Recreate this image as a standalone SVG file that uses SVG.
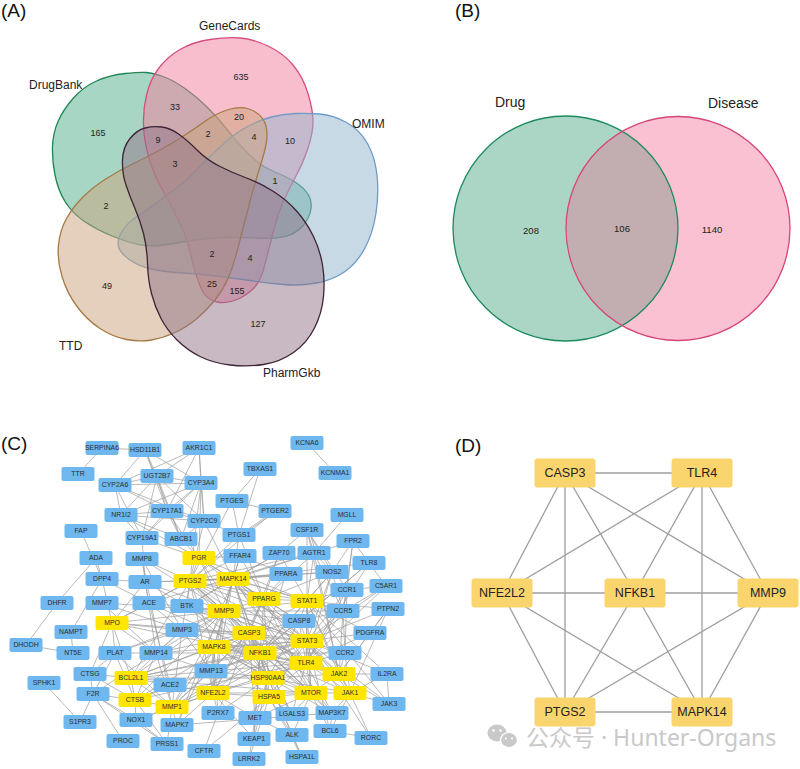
<svg xmlns="http://www.w3.org/2000/svg" xmlns:xlink="http://www.w3.org/1999/xlink" width="800" height="769" viewBox="0 0 800 769">
<style>
text{font-family:"Liberation Sans",Arial,sans-serif}
.pl{font-size:19px;fill:#111}
.sl{font-size:12px;fill:#222}
.bl{font-size:14px;fill:#222}
.num{font-size:9px;fill:#222;text-anchor:middle}
.set{stroke-width:1.3;fill-opacity:.5}
.e line{stroke:#9c9c9c;stroke-width:.7}
.nb{fill:#6EB8EF}
.ny{fill:#FFE500}
.nb text,.ny text{font-size:6.9px;fill:#2d2d2d;text-anchor:middle}
.ed line{stroke:#9e9e9e;stroke-width:1.3}
.nd{fill:#FAD46C}
.nd text{font-size:12.5px;fill:#222;text-anchor:middle}
.wm{font-family:"Noto Sans","Noto Sans CJK SC",sans-serif;font-size:23px;fill:#c4c4c4}
</style>
<defs>
<rect id="cb" x="-16.5" y="-7" width="33" height="14" rx="2"/>
<rect id="db" x="-30.5" y="-14.5" width="61" height="29" rx="3"/>
<clipPath id="clipG"><circle cx="565.5" cy="228.5" r="112.5"/></clipPath>
</defs>
<rect width="800" height="769" fill="#fff"/>

<!-- Panel labels -->
<text class="pl" x="1" y="17">(A)</text>
<text class="pl" x="455" y="17">(B)</text>
<text class="pl" x="1" y="450">(C)</text>
<text class="pl" x="455" y="452">(D)</text>

<!-- Panel A: five-set Venn -->
<g id="venn5">
<path id="set-DrugBank" class="set" fill="#51AD89" stroke="#1F8655" d="M146.5,72.5 Q140,72 125,73.5 Q110,75 96.5,81 Q83,87 73,98.5 Q63,110 58,121.5 Q53,133 52.5,146.5 Q52,160 55,175 Q58,190 65,201.5 Q72,213 84.5,221.5 Q97,230 112,236 Q127,242 138.5,244.5 Q150,247 163.5,245 Q177,243 192,240.5 Q207,238 223.5,237.5 Q240,237 258.5,238 Q277,239 287,236 Q297,233 303.5,225 Q310,217 311,208.5 Q312,200 307.5,193.5 Q303,187 295,182 Q287,177 275,172 Q263,167 255,160 Q247,153 240,145 Q233,137 225,127 Q217,117 207,107 Q197,97 185,88.5 Q173,80 163,76.5 Q153,73 146.5,72.5 Z"/>
<path id="set-GeneCards" class="set" fill="#F17D9B" stroke="#D64F83" d="M185,235 Q187,240 192,260 Q197,280 202,290 Q207,300 217,302 Q227,304 237,299.5 Q247,295 253.5,288.5 Q260,282 263.5,269.5 Q267,257 272.5,235 Q278,213 284,200 Q290,187 296.5,175 Q303,163 308,148 Q313,133 313,121.5 Q313,110 308,93.5 Q303,77 293,65 Q283,53 268,46 Q253,39 240,38 Q227,37 210,39.5 Q193,42 180,49.5 Q167,57 158.5,68.5 Q150,80 146.5,95 Q143,110 143.5,125 Q144,140 148.5,156.5 Q153,173 161.5,188 Q170,203 176.5,216.5 Q183,230 185,235 Z"/>
<path id="set-OMIM" class="set" fill="#91B3CD" stroke="#6C9BC8" d="M295,113.5 Q307,113 320,114 Q333,115 346.5,122.5 Q360,130 367.5,143.5 Q375,157 377,175 Q379,193 376,213 Q373,233 365,248 Q357,263 345,271.5 Q333,280 316.5,283 Q300,286 283.5,284.5 Q267,283 250,280.5 Q233,278 216.5,276 Q200,274 183.5,273 Q167,272 153.5,269.5 Q140,267 130,260 Q120,253 118.5,246.5 Q117,240 122,231.5 Q127,223 137,216.5 Q147,210 158.5,201.5 Q170,193 178.5,186.5 Q187,180 195,171.5 Q203,163 211.5,155 Q220,147 228.5,139.5 Q237,132 248.5,126 Q260,120 271.5,117 Q283,114 295,113.5 Z"/>
<path id="set-TTD" class="set" fill="#C9A179" stroke="#A57A44" d="M228.5,109.5 Q240,106 249,109 Q258,112 262.5,118.5 Q267,125 267,134 Q267,143 263.5,155 Q260,167 256.5,178.5 Q253,190 250,201.5 Q247,213 243.5,226.5 Q240,240 236.5,253.5 Q233,267 228,278.5 Q223,290 215,300 Q207,310 197,318.5 Q187,327 175,332.5 Q163,338 151.5,340 Q140,342 126.5,339.5 Q113,337 100,328.5 Q87,320 77,306.5 Q67,293 62,276.5 Q57,260 58.5,245 Q60,230 66.5,218.5 Q73,207 83,197 Q93,187 106.5,178.5 Q120,170 133.5,163.5 Q147,157 160,150 Q173,143 185,135 Q197,127 207,120 Q217,113 228.5,109.5 Z"/>
<path id="set-PharmGkb" class="set" fill="#917387" stroke="#3E2436" d="M145,128 Q153,126 161.5,127 Q170,128 178.5,134 Q187,140 197,150 Q207,160 220,166.5 Q233,173 246.5,178 Q260,183 273.5,191.5 Q287,200 297,211.5 Q307,223 313.5,236.5 Q320,250 322.5,265 Q325,280 323.5,296.5 Q322,313 314.5,328 Q307,343 293.5,352.5 Q280,362 263.5,364.5 Q247,367 230,365 Q213,363 200,356.5 Q187,350 177,340 Q167,330 161,318.5 Q155,307 151.5,293.5 Q148,280 147.5,263.5 Q147,247 143.5,233.5 Q140,220 135,208.5 Q130,197 126,185 Q122,173 122.5,160 Q123,147 130,138.5 Q137,130 145,128 Z"/>
<text class="sl" x="199" y="29.5">GeneCards</text>
<text class="sl" x="29" y="89">DrugBank</text>
<text class="sl" x="352" y="128">OMIM</text>
<text class="sl" x="59" y="350">TTD</text>
<text class="sl" x="263" y="377">PharmGkb</text>
<text class="num" x="241" y="80">635</text>
<text class="num" x="175" y="110">33</text>
<text class="num" x="239" y="120">20</text>
<text class="num" x="98" y="136">165</text>
<text class="num" x="158" y="143">9</text>
<text class="num" x="208" y="137">2</text>
<text class="num" x="254" y="140">4</text>
<text class="num" x="290" y="144">10</text>
<text class="num" x="175" y="167">3</text>
<text class="num" x="275" y="184">1</text>
<text class="num" x="106" y="209">2</text>
<text class="num" x="212" y="257">2</text>
<text class="num" x="250" y="261">4</text>
<text class="num" x="107" y="289">49</text>
<text class="num" x="212" y="287">25</text>
<text class="num" x="237" y="294">155</text>
<text class="num" x="258" y="327">127</text>
</g>

<!-- Panel B: two-set Venn -->
<g id="venn2">
<circle id="set-Drug" cx="565.5" cy="228.5" r="112.5" fill="#ABD6C6"/>
<circle id="set-Disease" cx="678" cy="228.5" r="112" fill="#F9C1D1"/>
<circle cx="678" cy="228.5" r="112" fill="#C2AEB1" clip-path="url(#clipG)"/>
<circle cx="565.5" cy="228.5" r="112.5" fill="none" stroke="#1D8A5E" stroke-width="1.3"/>
<circle cx="678" cy="228.5" r="112" fill="none" stroke="#D6457A" stroke-width="1.3"/>
<text class="bl" x="495" y="107">Drug</text>
<text class="bl" x="708" y="108">Disease</text>
<text class="num" style="font-size:9.5px" x="531" y="234">208</text>
<text class="num" style="font-size:9.5px" x="622" y="232">106</text>
<text class="num" style="font-size:9.5px" x="712" y="233">1140</text>
</g>

<!-- Panel C connectors -->
<g id="c-edges" class="e">
<line x1="102" y1="448" x2="145" y2="450"/><line x1="102" y1="448" x2="78" y2="474"/>
<line x1="145" y1="450" x2="115" y2="485"/><line x1="145" y1="450" x2="157" y2="476"/><line x1="145" y1="450" x2="167" y2="511"/><line x1="145" y1="450" x2="201" y2="483"/><line x1="145" y1="450" x2="181" y2="539"/>
<line x1="199" y1="448" x2="157" y2="476"/><line x1="199" y1="448" x2="201" y2="483"/><line x1="199" y1="448" x2="167" y2="511"/><line x1="199" y1="448" x2="115" y2="485"/><line x1="199" y1="448" x2="204" y2="521"/>
<line x1="157" y1="476" x2="115" y2="485"/><line x1="157" y1="476" x2="201" y2="483"/><line x1="157" y1="476" x2="167" y2="511"/><line x1="157" y1="476" x2="121" y2="515"/><line x1="157" y1="476" x2="204" y2="521"/><line x1="157" y1="476" x2="181" y2="539"/><line x1="157" y1="476" x2="142" y2="538"/>
<line x1="115" y1="485" x2="201" y2="483"/><line x1="115" y1="485" x2="121" y2="515"/><line x1="115" y1="485" x2="142" y2="538"/><line x1="115" y1="485" x2="204" y2="521"/><line x1="115" y1="485" x2="167" y2="511"/>
<line x1="201" y1="483" x2="121" y2="515"/><line x1="201" y1="483" x2="204" y2="521"/><line x1="201" y1="483" x2="181" y2="539"/><line x1="201" y1="483" x2="167" y2="511"/><line x1="201" y1="483" x2="142" y2="538"/><line x1="201" y1="483" x2="199" y2="558"/><line x1="201" y1="483" x2="190" y2="581"/>
<line x1="121" y1="515" x2="167" y2="511"/><line x1="121" y1="515" x2="181" y2="539"/><line x1="121" y1="515" x2="204" y2="521"/><line x1="121" y1="515" x2="142" y2="538"/><line x1="121" y1="515" x2="199" y2="558"/>
<line x1="167" y1="511" x2="142" y2="538"/><line x1="167" y1="511" x2="204" y2="521"/><line x1="167" y1="511" x2="181" y2="539"/><line x1="167" y1="511" x2="199" y2="558"/>
<line x1="142" y1="538" x2="199" y2="558"/><line x1="142" y1="538" x2="145" y2="582"/><line x1="181" y1="539" x2="199" y2="558"/>
<line x1="204" y1="521" x2="181" y2="539"/><line x1="204" y1="521" x2="239" y2="535"/><line x1="204" y1="521" x2="190" y2="581"/><line x1="204" y1="521" x2="233" y2="579"/>
<line x1="260" y1="469" x2="232" y2="501"/><line x1="260" y1="469" x2="239" y2="535"/><line x1="232" y1="501" x2="275" y2="511"/><line x1="232" y1="501" x2="239" y2="535"/><line x1="275" y1="511" x2="239" y2="535"/><line x1="275" y1="512.5" x2="239" y2="536.5"/>
<line x1="232" y1="501" x2="190" y2="581"/><line x1="239" y1="535" x2="190" y2="581"/><line x1="239" y1="535" x2="233" y2="579"/><line x1="239" y1="535" x2="264" y2="599"/><line x1="275" y1="511" x2="190" y2="581"/>
<line x1="307" y1="443" x2="335" y2="473"/>
<line x1="347" y1="515" x2="314" y2="553"/><line x1="307" y1="530" x2="314" y2="553"/><line x1="309" y1="530" x2="316" y2="553"/><line x1="307" y1="530" x2="279" y2="553"/><line x1="307" y1="530" x2="332" y2="572"/><line x1="307" y1="530" x2="307" y2="601"/><line x1="307" y1="530" x2="339" y2="674"/><line x1="307" y1="530" x2="347" y2="590"/>
<line x1="353" y1="541" x2="314" y2="553"/><line x1="353" y1="541" x2="347" y2="590"/><line x1="353" y1="541" x2="386" y2="586"/><line x1="353" y1="541" x2="332" y2="572"/><line x1="353" y1="541" x2="343" y2="611"/>
<line x1="81" y1="531" x2="102" y2="579"/><line x1="96" y1="558" x2="102" y2="579"/><line x1="96" y1="558" x2="57" y2="603"/><line x1="57" y1="603" x2="26" y2="645"/><line x1="26" y1="645" x2="73" y2="653"/><line x1="71" y1="632" x2="73" y2="653"/><line x1="71" y1="632" x2="102" y2="579"/>
<line x1="102" y1="579" x2="149" y2="603"/><line x1="102" y1="579" x2="112" y2="623"/><line x1="102" y1="579" x2="145" y2="582"/>
<line x1="102" y1="603" x2="182" y2="630"/><line x1="102" y1="603" x2="224" y2="611"/><line x1="102" y1="603" x2="156" y2="653"/>
<line x1="142" y1="559" x2="224" y2="611"/><line x1="142" y1="559" x2="182" y2="630"/><line x1="142" y1="559" x2="172" y2="707"/><line x1="142" y1="559" x2="190" y2="581"/><line x1="142" y1="559" x2="156" y2="653"/>
<line x1="145" y1="582" x2="190" y2="581"/><line x1="145" y1="582" x2="149" y2="603"/><line x1="145" y1="582" x2="187" y2="606"/><line x1="145" y1="582" x2="112" y2="623"/><line x1="145" y1="582" x2="307" y2="641"/><line x1="145" y1="582" x2="233" y2="579"/>
<line x1="149" y1="603" x2="112" y2="623"/><line x1="149" y1="603" x2="224" y2="611"/><line x1="149" y1="603" x2="170" y2="685"/><line x1="149" y1="603" x2="314" y2="553"/><line x1="149" y1="603" x2="190" y2="581"/><line x1="149" y1="603" x2="260" y2="653"/><line x1="149" y1="603" x2="182" y2="630"/>
<line x1="187" y1="606" x2="224" y2="611"/><line x1="187" y1="606" x2="233" y2="579"/><line x1="187" y1="606" x2="190" y2="581"/><line x1="187" y1="606" x2="260" y2="653"/><line x1="187" y1="606" x2="249" y2="633"/><line x1="187" y1="606" x2="279" y2="553"/><line x1="187" y1="606" x2="307" y2="641"/>
<line x1="112" y1="623" x2="182" y2="630"/><line x1="112" y1="623" x2="115" y2="653"/><line x1="112" y1="623" x2="156" y2="653"/><line x1="112" y1="623" x2="224" y2="611"/><line x1="112" y1="623" x2="249" y2="633"/><line x1="112" y1="623" x2="260" y2="653"/><line x1="112" y1="623" x2="190" y2="581"/><line x1="112" y1="623" x2="90" y2="674"/><line x1="112" y1="623" x2="131" y2="678"/>
<line x1="182" y1="630" x2="156" y2="653"/><line x1="182" y1="630" x2="211" y2="671"/><line x1="182" y1="630" x2="224" y2="611"/><line x1="182" y1="630" x2="172" y2="707"/><line x1="182" y1="630" x2="249" y2="633"/><line x1="182" y1="630" x2="214" y2="647"/><line x1="182" y1="630" x2="260" y2="653"/><line x1="182" y1="630" x2="115" y2="653"/><line x1="182" y1="630" x2="131" y2="678"/><line x1="182" y1="630" x2="307" y2="641"/>
<line x1="115" y1="653" x2="156" y2="653"/><line x1="115" y1="653" x2="93" y2="694"/><line x1="115" y1="653" x2="90" y2="674"/><line x1="115" y1="653" x2="135" y2="700"/><line x1="115" y1="653" x2="224" y2="611"/><line x1="115" y1="653" x2="172" y2="707"/>
<line x1="156" y1="653" x2="211" y2="671"/><line x1="156" y1="653" x2="224" y2="611"/><line x1="156" y1="653" x2="172" y2="707"/><line x1="156" y1="653" x2="135" y2="700"/><line x1="156" y1="653" x2="249" y2="633"/><line x1="156" y1="653" x2="260" y2="653"/><line x1="156" y1="653" x2="307" y2="641"/>
<line x1="90" y1="674" x2="93" y2="694"/><line x1="90" y1="674" x2="135" y2="700"/><line x1="90" y1="674" x2="131" y2="678"/>
<line x1="131" y1="678" x2="135" y2="700"/><line x1="131" y1="678" x2="172" y2="707"/><line x1="131" y1="678" x2="249" y2="633"/><line x1="131" y1="678" x2="260" y2="653"/><line x1="131" y1="678" x2="307" y2="641"/><line x1="131" y1="678" x2="214" y2="647"/><line x1="131" y1="678" x2="268" y2="678"/><line x1="131" y1="678" x2="311" y2="693"/><line x1="131" y1="678" x2="170" y2="685"/><line x1="131" y1="678" x2="224" y2="611"/><line x1="131" y1="678" x2="306" y2="663"/><line x1="131" y1="678" x2="190" y2="581"/>
<line x1="135" y1="700" x2="172" y2="707"/><line x1="135" y1="700" x2="136" y2="720"/><line x1="135" y1="700" x2="167" y2="744"/><line x1="135" y1="700" x2="93" y2="694"/><line x1="135" y1="700" x2="170" y2="685"/><line x1="135" y1="700" x2="224" y2="611"/><line x1="135" y1="700" x2="249" y2="633"/><line x1="135" y1="700" x2="260" y2="653"/><line x1="135" y1="700" x2="306" y2="663"/>
<line x1="170" y1="685" x2="213" y2="693"/>
<line x1="93" y1="694" x2="80" y2="722"/><line x1="93" y1="694" x2="123" y2="741"/><line x1="93" y1="694" x2="136" y2="720"/><line x1="93" y1="694" x2="156" y2="653"/><line x1="93" y1="694" x2="167" y2="744"/>
<line x1="44" y1="683" x2="80" y2="722"/>
<line x1="136" y1="720" x2="167" y2="744"/><line x1="136" y1="720" x2="172" y2="707"/><line x1="136" y1="720" x2="213" y2="693"/>
<line x1="172" y1="707" x2="167" y2="744"/><line x1="172" y1="707" x2="177" y2="725"/><line x1="172" y1="707" x2="224" y2="611"/><line x1="172" y1="707" x2="211" y2="671"/><line x1="172" y1="707" x2="213" y2="693"/><line x1="172" y1="707" x2="260" y2="653"/><line x1="172" y1="707" x2="214" y2="647"/><line x1="172" y1="707" x2="249" y2="633"/><line x1="172" y1="707" x2="307" y2="641"/>
<line x1="177" y1="725" x2="233" y2="579"/><line x1="177" y1="725" x2="214" y2="647"/><line x1="177" y1="725" x2="213" y2="693"/><line x1="177" y1="725" x2="332" y2="713"/>
<line x1="204" y1="751" x2="269" y2="697"/><line x1="204" y1="751" x2="218" y2="713"/>
<line x1="211" y1="671" x2="224" y2="611"/><line x1="211" y1="671" x2="214" y2="647"/><line x1="211" y1="671" x2="260" y2="653"/><line x1="211" y1="671" x2="249" y2="633"/><line x1="211" y1="671" x2="213" y2="693"/><line x1="211" y1="671" x2="307" y2="641"/><line x1="211" y1="671" x2="268" y2="678"/>
<line x1="199" y1="558" x2="190" y2="581"/><line x1="199" y1="558" x2="233" y2="579"/><line x1="199" y1="558" x2="307" y2="641"/><line x1="199" y1="558" x2="307" y2="601"/><line x1="199" y1="558" x2="264" y2="599"/><line x1="199" y1="558" x2="224" y2="611"/><line x1="199" y1="558" x2="260" y2="653"/><line x1="199" y1="558" x2="240" y2="556"/>
<line x1="190" y1="581" x2="233" y2="579"/><line x1="190" y1="581" x2="224" y2="611"/><line x1="190" y1="581" x2="264" y2="599"/><line x1="190" y1="581" x2="307" y2="601"/><line x1="190" y1="581" x2="249" y2="633"/><line x1="190" y1="581" x2="260" y2="653"/><line x1="190" y1="581" x2="307" y2="641"/><line x1="190" y1="581" x2="306" y2="663"/><line x1="190" y1="581" x2="213" y2="693"/><line x1="190" y1="581" x2="214" y2="647"/><line x1="190" y1="581" x2="268" y2="678"/><line x1="190" y1="581" x2="311" y2="693"/><line x1="190" y1="581" x2="332" y2="572"/><line x1="190" y1="581" x2="286" y2="574"/><line x1="190" y1="581" x2="314" y2="553"/><line x1="190" y1="581" x2="240" y2="556"/><line x1="190" y1="581" x2="299" y2="621"/><line x1="190" y1="581" x2="182" y2="630"/>
<line x1="233" y1="579" x2="224" y2="611"/><line x1="233" y1="579" x2="264" y2="599"/><line x1="233" y1="579" x2="307" y2="601"/><line x1="233" y1="579" x2="249" y2="633"/><line x1="233" y1="579" x2="307" y2="641"/><line x1="233" y1="579" x2="214" y2="647"/><line x1="233" y1="579" x2="260" y2="653"/><line x1="233" y1="579" x2="306" y2="663"/><line x1="233" y1="579" x2="268" y2="678"/><line x1="233" y1="579" x2="311" y2="693"/><line x1="233" y1="579" x2="213" y2="693"/><line x1="233" y1="579" x2="339" y2="674"/><line x1="233" y1="579" x2="332" y2="713"/><line x1="233" y1="579" x2="240" y2="556"/><line x1="233" y1="579" x2="279" y2="553"/><line x1="233" y1="579" x2="314" y2="553"/><line x1="233" y1="579" x2="332" y2="572"/><line x1="233" y1="579" x2="343" y2="611"/><line x1="233" y1="579" x2="299" y2="621"/><line x1="233" y1="579" x2="369" y2="563"/>
<line x1="224" y1="611" x2="264" y2="599"/><line x1="224" y1="611" x2="249" y2="633"/><line x1="224" y1="611" x2="307" y2="641"/><line x1="224" y1="611" x2="260" y2="653"/><line x1="224" y1="611" x2="306" y2="663"/><line x1="224" y1="611" x2="214" y2="647"/><line x1="224" y1="611" x2="213" y2="693"/><line x1="224" y1="611" x2="268" y2="678"/><line x1="224" y1="611" x2="307" y2="601"/><line x1="224" y1="611" x2="299" y2="621"/><line x1="224" y1="611" x2="240" y2="556"/><line x1="224" y1="611" x2="343" y2="611"/><line x1="224" y1="611" x2="311" y2="693"/>
<line x1="264" y1="599" x2="307" y2="601"/><line x1="264" y1="599" x2="307" y2="641"/><line x1="264" y1="599" x2="260" y2="653"/><line x1="264" y1="599" x2="249" y2="633"/><line x1="264" y1="599" x2="306" y2="663"/><line x1="264" y1="599" x2="311" y2="693"/><line x1="264" y1="599" x2="213" y2="693"/><line x1="264" y1="599" x2="286" y2="574"/><line x1="264" y1="599" x2="240" y2="556"/><line x1="264" y1="599" x2="332" y2="572"/><line x1="264" y1="599" x2="299" y2="621"/><line x1="264" y1="599" x2="314" y2="553"/><line x1="264" y1="599" x2="279" y2="553"/><line x1="264" y1="599" x2="268" y2="678"/>
<line x1="307" y1="601" x2="307" y2="641"/><line x1="307" y1="601" x2="339" y2="674"/><line x1="307" y1="601" x2="350" y2="693"/><line x1="307" y1="601" x2="260" y2="653"/><line x1="307" y1="601" x2="306" y2="663"/><line x1="307" y1="601" x2="249" y2="633"/><line x1="307" y1="601" x2="332" y2="572"/><line x1="307" y1="601" x2="343" y2="611"/><line x1="307" y1="601" x2="347" y2="590"/><line x1="307" y1="601" x2="388" y2="609"/><line x1="307" y1="601" x2="299" y2="621"/><line x1="307" y1="601" x2="387" y2="674"/><line x1="307" y1="601" x2="370" y2="633"/><line x1="307" y1="601" x2="279" y2="553"/><line x1="307" y1="601" x2="314" y2="553"/><line x1="307" y1="601" x2="389" y2="704"/><line x1="307" y1="601" x2="311" y2="693"/>
<line x1="249" y1="633" x2="307" y2="641"/><line x1="249" y1="633" x2="260" y2="653"/><line x1="249" y1="633" x2="214" y2="647"/><line x1="249" y1="633" x2="268" y2="678"/><line x1="249" y1="633" x2="269" y2="697"/><line x1="249" y1="633" x2="311" y2="693"/><line x1="249" y1="633" x2="306" y2="663"/><line x1="249" y1="633" x2="213" y2="693"/><line x1="249" y1="633" x2="299" y2="621"/><line x1="249" y1="633" x2="218" y2="713"/><line x1="249" y1="633" x2="255" y2="718"/><line x1="249" y1="633" x2="292" y2="714"/><line x1="249" y1="633" x2="279" y2="553"/><line x1="249" y1="633" x2="339" y2="674"/>
<line x1="307" y1="641" x2="339" y2="674"/><line x1="307" y1="641" x2="350" y2="693"/><line x1="307" y1="641" x2="260" y2="653"/><line x1="307" y1="641" x2="311" y2="693"/><line x1="307" y1="641" x2="306" y2="663"/><line x1="307" y1="641" x2="268" y2="678"/><line x1="307" y1="641" x2="214" y2="647"/><line x1="307" y1="641" x2="345" y2="653"/><line x1="307" y1="641" x2="370" y2="633"/><line x1="307" y1="641" x2="387" y2="674"/><line x1="307" y1="641" x2="389" y2="704"/><line x1="307" y1="641" x2="388" y2="609"/><line x1="307" y1="641" x2="343" y2="611"/><line x1="307" y1="641" x2="299" y2="621"/><line x1="307" y1="641" x2="332" y2="572"/><line x1="307" y1="641" x2="330" y2="731"/><line x1="307" y1="641" x2="371" y2="738"/><line x1="307" y1="641" x2="347" y2="590"/><line x1="307" y1="641" x2="269" y2="697"/><line x1="307" y1="641" x2="213" y2="693"/><line x1="307" y1="641" x2="386" y2="586"/>
<line x1="214" y1="647" x2="260" y2="653"/><line x1="214" y1="647" x2="213" y2="693"/><line x1="214" y1="647" x2="268" y2="678"/><line x1="214" y1="647" x2="311" y2="693"/><line x1="214" y1="647" x2="306" y2="663"/><line x1="214" y1="647" x2="332" y2="713"/><line x1="214" y1="647" x2="218" y2="713"/><line x1="214" y1="647" x2="269" y2="697"/><line x1="214" y1="647" x2="339" y2="674"/>
<line x1="260" y1="653" x2="306" y2="663"/><line x1="260" y1="653" x2="268" y2="678"/><line x1="260" y1="653" x2="213" y2="693"/><line x1="260" y1="653" x2="311" y2="693"/><line x1="260" y1="653" x2="269" y2="697"/><line x1="260" y1="653" x2="339" y2="674"/><line x1="260" y1="653" x2="299" y2="621"/><line x1="260" y1="653" x2="332" y2="572"/><line x1="260" y1="653" x2="332" y2="713"/><line x1="260" y1="653" x2="369" y2="563"/><line x1="260" y1="653" x2="254" y2="739"/><line x1="260" y1="653" x2="255" y2="718"/><line x1="260" y1="653" x2="345" y2="653"/><line x1="260" y1="653" x2="292" y2="714"/><line x1="260" y1="653" x2="286" y2="574"/><line x1="260" y1="653" x2="350" y2="693"/>
<line x1="306" y1="663" x2="339" y2="674"/><line x1="306" y1="663" x2="268" y2="678"/><line x1="306" y1="663" x2="311" y2="693"/><line x1="306" y1="663" x2="269" y2="697"/><line x1="306" y1="663" x2="369" y2="563"/><line x1="306" y1="663" x2="332" y2="713"/><line x1="306" y1="663" x2="343" y2="611"/><line x1="306" y1="663" x2="299" y2="621"/><line x1="306" y1="663" x2="386" y2="586"/><line x1="306" y1="663" x2="347" y2="590"/><line x1="306" y1="663" x2="292" y2="714"/><line x1="306" y1="663" x2="345" y2="653"/><line x1="306" y1="663" x2="332" y2="572"/><line x1="306" y1="663" x2="213" y2="693"/><line x1="306" y1="663" x2="350" y2="693"/>
<line x1="339" y1="674" x2="350" y2="693"/><line x1="339" y1="674" x2="311" y2="693"/><line x1="339" y1="674" x2="268" y2="678"/><line x1="339" y1="674" x2="389" y2="704"/><line x1="339" y1="674" x2="387" y2="674"/><line x1="339" y1="674" x2="388" y2="609"/><line x1="339" y1="674" x2="370" y2="633"/><line x1="339" y1="674" x2="345" y2="653"/><line x1="339" y1="674" x2="343" y2="611"/><line x1="339" y1="674" x2="314" y2="553"/>
<line x1="268" y1="678" x2="269" y2="697"/><line x1="268" y1="678" x2="311" y2="693"/><line x1="268" y1="678" x2="213" y2="693"/><line x1="268" y1="678" x2="350" y2="693"/><line x1="268" y1="678" x2="302" y2="757"/><line x1="268" y1="678" x2="292" y2="735"/><line x1="268" y1="678" x2="255" y2="718"/><line x1="268" y1="678" x2="292" y2="714"/><line x1="268" y1="678" x2="218" y2="713"/><line x1="268" y1="678" x2="254" y2="739"/><line x1="268" y1="678" x2="299" y2="621"/><line x1="268" y1="678" x2="370" y2="633"/><line x1="268" y1="678" x2="187" y2="606"/>
<line x1="213" y1="693" x2="269" y2="697"/><line x1="213" y1="693" x2="311" y2="693"/><line x1="213" y1="693" x2="254" y2="739"/><line x1="213" y1="693" x2="218" y2="713"/><line x1="213" y1="693" x2="255" y2="718"/>
<line x1="269" y1="697" x2="311" y2="693"/><line x1="269" y1="697" x2="302" y2="757"/><line x1="269" y1="697" x2="292" y2="735"/><line x1="269" y1="697" x2="255" y2="718"/><line x1="269" y1="697" x2="249" y2="759"/><line x1="269" y1="697" x2="292" y2="714"/>
<line x1="311" y1="693" x2="350" y2="693"/><line x1="311" y1="693" x2="292" y2="735"/><line x1="311" y1="693" x2="255" y2="718"/><line x1="311" y1="693" x2="332" y2="713"/><line x1="311" y1="693" x2="292" y2="714"/><line x1="311" y1="693" x2="330" y2="731"/>
<line x1="350" y1="693" x2="389" y2="704"/><line x1="350" y1="693" x2="387" y2="674"/><line x1="350" y1="693" x2="388" y2="609"/><line x1="350" y1="693" x2="332" y2="713"/><line x1="350" y1="693" x2="371" y2="738"/><line x1="350" y1="693" x2="330" y2="731"/><line x1="350" y1="693" x2="345" y2="653"/>
<line x1="347" y1="590" x2="343" y2="611"/><line x1="347" y1="590" x2="345" y2="653"/><line x1="343" y1="611" x2="345" y2="653"/><line x1="343" y1="611" x2="386" y2="586"/><line x1="347" y1="590" x2="386" y2="586"/>
<line x1="314" y1="553" x2="332" y2="572"/><line x1="314" y1="553" x2="343" y2="611"/><line x1="332" y1="572" x2="343" y2="611"/><line x1="286" y1="574" x2="240" y2="556"/><line x1="299" y1="621" x2="369" y2="563"/><line x1="299" y1="621" x2="343" y2="611"/>
<line x1="370" y1="633" x2="388" y2="609"/><line x1="387" y1="674" x2="389" y2="704"/><line x1="332" y1="713" x2="330" y2="731"/><line x1="330" y1="731" x2="371" y2="738"/>
<line x1="292" y1="735" x2="255" y2="718"/><line x1="255" y1="718" x2="254" y2="739"/><line x1="249" y1="759" x2="255" y2="718"/><line x1="292" y1="735" x2="302" y2="757"/>
</g>

<!-- Panel C nodes -->
<g id="c-nodes">
<g id="c-SERPINA6" class="nb" transform="translate(102,448)"><use href="#cb"/><text y="2.4">SERPINA6</text></g>
<g id="c-HSD11B1" class="nb" transform="translate(145,450)"><use href="#cb"/><text y="2.4">HSD11B1</text></g>
<g id="c-AKR1C1" class="nb" transform="translate(199,448)"><use href="#cb"/><text y="2.4">AKR1C1</text></g>
<g id="c-KCNA6" class="nb" transform="translate(307,443)"><use href="#cb"/><text y="2.4">KCNA6</text></g>
<g id="c-TTR" class="nb" transform="translate(78,474)"><use href="#cb"/><text y="2.4">TTR</text></g>
<g id="c-UGT2B7" class="nb" transform="translate(157,476)"><use href="#cb"/><text y="2.4">UGT2B7</text></g>
<g id="c-CYP3A4" class="nb" transform="translate(201,483)"><use href="#cb"/><text y="2.4">CYP3A4</text></g>
<g id="c-CYP2A6" class="nb" transform="translate(115,485)"><use href="#cb"/><text y="2.4">CYP2A6</text></g>
<g id="c-TBXAS1" class="nb" transform="translate(260,469)"><use href="#cb"/><text y="2.4">TBXAS1</text></g>
<g id="c-KCNMA1" class="nb" transform="translate(335,473)"><use href="#cb"/><text y="2.4">KCNMA1</text></g>
<g id="c-NR1I2" class="nb" transform="translate(121,515)"><use href="#cb"/><text y="2.4">NR1I2</text></g>
<g id="c-CYP17A1" class="nb" transform="translate(167,511)"><use href="#cb"/><text y="2.4">CYP17A1</text></g>
<g id="c-CYP2C9" class="nb" transform="translate(204,521)"><use href="#cb"/><text y="2.4">CYP2C9</text></g>
<g id="c-PTGES" class="nb" transform="translate(232,501)"><use href="#cb"/><text y="2.4">PTGES</text></g>
<g id="c-PTGER2" class="nb" transform="translate(275,511)"><use href="#cb"/><text y="2.4">PTGER2</text></g>
<g id="c-MGLL" class="nb" transform="translate(347,515)"><use href="#cb"/><text y="2.4">MGLL</text></g>
<g id="c-FAP" class="nb" transform="translate(81,531)"><use href="#cb"/><text y="2.4">FAP</text></g>
<g id="c-CYP19A1" class="nb" transform="translate(142,538)"><use href="#cb"/><text y="2.4">CYP19A1</text></g>
<g id="c-ABCB1" class="nb" transform="translate(181,539)"><use href="#cb"/><text y="2.4">ABCB1</text></g>
<g id="c-PTGS1" class="nb" transform="translate(239,535)"><use href="#cb"/><text y="2.4">PTGS1</text></g>
<g id="c-CSF1R" class="nb" transform="translate(307,530)"><use href="#cb"/><text y="2.4">CSF1R</text></g>
<g id="c-FPR2" class="nb" transform="translate(353,541)"><use href="#cb"/><text y="2.4">FPR2</text></g>
<g id="c-ADA" class="nb" transform="translate(96,558)"><use href="#cb"/><text y="2.4">ADA</text></g>
<g id="c-MMP8" class="nb" transform="translate(142,559)"><use href="#cb"/><text y="2.4">MMP8</text></g>
<g id="c-PGR" class="ny" transform="translate(199,558)"><use href="#cb"/><text y="2.4">PGR</text></g>
<g id="c-FFAR4" class="nb" transform="translate(240,556)"><use href="#cb"/><text y="2.4">FFAR4</text></g>
<g id="c-ZAP70" class="nb" transform="translate(279,553)"><use href="#cb"/><text y="2.4">ZAP70</text></g>
<g id="c-AGTR1" class="nb" transform="translate(314,553)"><use href="#cb"/><text y="2.4">AGTR1</text></g>
<g id="c-TLR8" class="nb" transform="translate(369,563)"><use href="#cb"/><text y="2.4">TLR8</text></g>
<g id="c-DPP4" class="nb" transform="translate(102,579)"><use href="#cb"/><text y="2.4">DPP4</text></g>
<g id="c-AR" class="nb" transform="translate(145,582)"><use href="#cb"/><text y="2.4">AR</text></g>
<g id="c-PTGS2" class="ny" transform="translate(190,581)"><use href="#cb"/><text y="2.4">PTGS2</text></g>
<g id="c-MAPK14" class="ny" transform="translate(233,579)"><use href="#cb"/><text y="2.4">MAPK14</text></g>
<g id="c-PPARA" class="nb" transform="translate(286,574)"><use href="#cb"/><text y="2.4">PPARA</text></g>
<g id="c-NOS2" class="nb" transform="translate(332,572)"><use href="#cb"/><text y="2.4">NOS2</text></g>
<g id="c-CCR1" class="nb" transform="translate(347,590)"><use href="#cb"/><text y="2.4">CCR1</text></g>
<g id="c-C5AR1" class="nb" transform="translate(386,586)"><use href="#cb"/><text y="2.4">C5AR1</text></g>
<g id="c-DHFR" class="nb" transform="translate(57,603)"><use href="#cb"/><text y="2.4">DHFR</text></g>
<g id="c-MMP7" class="nb" transform="translate(102,603)"><use href="#cb"/><text y="2.4">MMP7</text></g>
<g id="c-ACE" class="nb" transform="translate(149,603)"><use href="#cb"/><text y="2.4">ACE</text></g>
<g id="c-BTK" class="nb" transform="translate(187,606)"><use href="#cb"/><text y="2.4">BTK</text></g>
<g id="c-PPARG" class="ny" transform="translate(264,599)"><use href="#cb"/><text y="2.4">PPARG</text></g>
<g id="c-STAT1" class="ny" transform="translate(307,601)"><use href="#cb"/><text y="2.4">STAT1</text></g>
<g id="c-MMP9" class="ny" transform="translate(224,611)"><use href="#cb"/><text y="2.4">MMP9</text></g>
<g id="c-CCR5" class="nb" transform="translate(343,611)"><use href="#cb"/><text y="2.4">CCR5</text></g>
<g id="c-PTPN2" class="nb" transform="translate(388,609)"><use href="#cb"/><text y="2.4">PTPN2</text></g>
<g id="c-MPO" class="ny" transform="translate(112,623)"><use href="#cb"/><text y="2.4">MPO</text></g>
<g id="c-CASP8" class="nb" transform="translate(299,621)"><use href="#cb"/><text y="2.4">CASP8</text></g>
<g id="c-MMP3" class="nb" transform="translate(182,630)"><use href="#cb"/><text y="2.4">MMP3</text></g>
<g id="c-NAMPT" class="nb" transform="translate(71,632)"><use href="#cb"/><text y="2.4">NAMPT</text></g>
<g id="c-CASP3" class="ny" transform="translate(249,633)"><use href="#cb"/><text y="2.4">CASP3</text></g>
<g id="c-PDGFRA" class="nb" transform="translate(370,633)"><use href="#cb"/><text y="2.4">PDGFRA</text></g>
<g id="c-STAT3" class="ny" transform="translate(307,641)"><use href="#cb"/><text y="2.4">STAT3</text></g>
<g id="c-DHODH" class="nb" transform="translate(26,645)"><use href="#cb"/><text y="2.4">DHODH</text></g>
<g id="c-MAPK8" class="ny" transform="translate(214,647)"><use href="#cb"/><text y="2.4">MAPK8</text></g>
<g id="c-NT5E" class="nb" transform="translate(73,653)"><use href="#cb"/><text y="2.4">NT5E</text></g>
<g id="c-PLAT" class="nb" transform="translate(115,653)"><use href="#cb"/><text y="2.4">PLAT</text></g>
<g id="c-MMP14" class="nb" transform="translate(156,653)"><use href="#cb"/><text y="2.4">MMP14</text></g>
<g id="c-NFKB1" class="ny" transform="translate(260,653)"><use href="#cb"/><text y="2.4">NFKB1</text></g>
<g id="c-CCR2" class="nb" transform="translate(345,653)"><use href="#cb"/><text y="2.4">CCR2</text></g>
<g id="c-TLR4" class="ny" transform="translate(306,663)"><use href="#cb"/><text y="2.4">TLR4</text></g>
<g id="c-MMP13" class="nb" transform="translate(211,671)"><use href="#cb"/><text y="2.4">MMP13</text></g>
<g id="c-CTSG" class="nb" transform="translate(90,674)"><use href="#cb"/><text y="2.4">CTSG</text></g>
<g id="c-JAK2" class="ny" transform="translate(339,674)"><use href="#cb"/><text y="2.4">JAK2</text></g>
<g id="c-IL2RA" class="nb" transform="translate(387,674)"><use href="#cb"/><text y="2.4">IL2RA</text></g>
<g id="c-BCL2L1" class="ny" transform="translate(131,678)"><use href="#cb"/><text y="2.4">BCL2L1</text></g>
<g id="c-HSP90AA1" class="ny" transform="translate(268,678)"><use href="#cb"/><text y="2.4">HSP90AA1</text></g>
<g id="c-SPHK1" class="nb" transform="translate(44,683)"><use href="#cb"/><text y="2.4">SPHK1</text></g>
<g id="c-ACE2" class="nb" transform="translate(170,685)"><use href="#cb"/><text y="2.4">ACE2</text></g>
<g id="c-NFE2L2" class="ny" transform="translate(213,693)"><use href="#cb"/><text y="2.4">NFE2L2</text></g>
<g id="c-MTOR" class="ny" transform="translate(311,693)"><use href="#cb"/><text y="2.4">MTOR</text></g>
<g id="c-JAK1" class="ny" transform="translate(350,693)"><use href="#cb"/><text y="2.4">JAK1</text></g>
<g id="c-F2R" class="nb" transform="translate(93,694)"><use href="#cb"/><text y="2.4">F2R</text></g>
<g id="c-HSPA5" class="ny" transform="translate(269,697)"><use href="#cb"/><text y="2.4">HSPA5</text></g>
<g id="c-CTSB" class="ny" transform="translate(135,700)"><use href="#cb"/><text y="2.4">CTSB</text></g>
<g id="c-JAK3" class="nb" transform="translate(389,704)"><use href="#cb"/><text y="2.4">JAK3</text></g>
<g id="c-MMP1" class="ny" transform="translate(172,707)"><use href="#cb"/><text y="2.4">MMP1</text></g>
<g id="c-P2RX7" class="nb" transform="translate(218,713)"><use href="#cb"/><text y="2.4">P2RX7</text></g>
<g id="c-LGALS3" class="nb" transform="translate(292,714)"><use href="#cb"/><text y="2.4">LGALS3</text></g>
<g id="c-MAP3K7" class="nb" transform="translate(332,713)"><use href="#cb"/><text y="2.4">MAP3K7</text></g>
<g id="c-MET" class="nb" transform="translate(255,718)"><use href="#cb"/><text y="2.4">MET</text></g>
<g id="c-NOX1" class="nb" transform="translate(136,720)"><use href="#cb"/><text y="2.4">NOX1</text></g>
<g id="c-S1PR3" class="nb" transform="translate(80,722)"><use href="#cb"/><text y="2.4">S1PR3</text></g>
<g id="c-MAPK7" class="nb" transform="translate(177,725)"><use href="#cb"/><text y="2.4">MAPK7</text></g>
<g id="c-BCL6" class="nb" transform="translate(330,731)"><use href="#cb"/><text y="2.4">BCL6</text></g>
<g id="c-ALK" class="nb" transform="translate(292,735)"><use href="#cb"/><text y="2.4">ALK</text></g>
<g id="c-RORC" class="nb" transform="translate(371,738)"><use href="#cb"/><text y="2.4">RORC</text></g>
<g id="c-KEAP1" class="nb" transform="translate(254,739)"><use href="#cb"/><text y="2.4">KEAP1</text></g>
<g id="c-PROC" class="nb" transform="translate(123,741)"><use href="#cb"/><text y="2.4">PROC</text></g>
<g id="c-PRSS1" class="nb" transform="translate(167,744)"><use href="#cb"/><text y="2.4">PRSS1</text></g>
<g id="c-CFTR" class="nb" transform="translate(204,751)"><use href="#cb"/><text y="2.4">CFTR</text></g>
<g id="c-HSPA1L" class="nb" transform="translate(302,757)"><use href="#cb"/><text y="2.4">HSPA1L</text></g>
<g id="c-LRRK2" class="nb" transform="translate(249,759)"><use href="#cb"/><text y="2.4">LRRK2</text></g>
</g>

<!-- Panel D connectors -->
<g id="d-edges" class="ed">
<line x1="565" y1="473" x2="702" y2="473"/>
<line x1="565" y1="473" x2="502" y2="593"/>
<line x1="565" y1="473" x2="565" y2="712"/>
<line x1="565" y1="473" x2="635" y2="593"/>
<line x1="565" y1="473" x2="768" y2="593"/>
<line x1="702" y1="473" x2="502" y2="593"/>
<line x1="702" y1="473" x2="635" y2="593"/>
<line x1="702" y1="473" x2="702" y2="712"/>
<line x1="702" y1="473" x2="768" y2="593"/>
<line x1="502" y1="593" x2="635" y2="593"/>
<line x1="635" y1="593" x2="768" y2="593"/>
<line x1="502" y1="593" x2="565" y2="712"/>
<line x1="502" y1="593" x2="702" y2="712"/>
<line x1="635" y1="593" x2="565" y2="712"/>
<line x1="635" y1="593" x2="702" y2="712"/>
<line x1="768" y1="593" x2="565" y2="712"/>
<line x1="768" y1="593" x2="702" y2="712"/>
<line x1="565" y1="712" x2="702" y2="712"/>
</g>

<!-- Panel D nodes -->
<g id="d-CASP3" class="nd" transform="translate(565,473)"><use href="#db"/><text y="4.4">CASP3</text></g>
<g id="d-TLR4" class="nd" transform="translate(702,473)"><use href="#db"/><text y="4.4">TLR4</text></g>
<g id="d-NFE2L2" class="nd" transform="translate(502,593)"><use href="#db"/><text y="4.4">NFE2L2</text></g>
<g id="d-NFKB1" class="nd" transform="translate(635,593)"><use href="#db"/><text y="4.4">NFKB1</text></g>
<g id="d-MMP9" class="nd" transform="translate(768,593)"><use href="#db"/><text y="4.4">MMP9</text></g>
<g id="d-PTGS2" class="nd" transform="translate(565,712)"><use href="#db"/><text y="4.4">PTGS2</text></g>
<g id="d-MAPK14" class="nd" transform="translate(702,712)"><use href="#db"/><text y="4.4">MAPK14</text></g>

<!-- Watermark -->
<g id="watermark" opacity="0.9">
<ellipse cx="497" cy="733" rx="9.5" ry="8.5" fill="#c4c4c4"/>
<ellipse cx="509" cy="740" rx="8.5" ry="7.5" fill="#c4c4c4" stroke="#fff" stroke-width="1.2"/>
<circle cx="493.5" cy="730.5" r="1.3" fill="#fff"/><circle cx="500.5" cy="730.5" r="1.3" fill="#fff"/>
<circle cx="506" cy="738.5" r="1.1" fill="#fff"/><circle cx="512" cy="738.5" r="1.1" fill="#fff"/>
<text class="wm" x="526" y="746">公众号 · Hunter-Organs</text>
</g>
</svg>
